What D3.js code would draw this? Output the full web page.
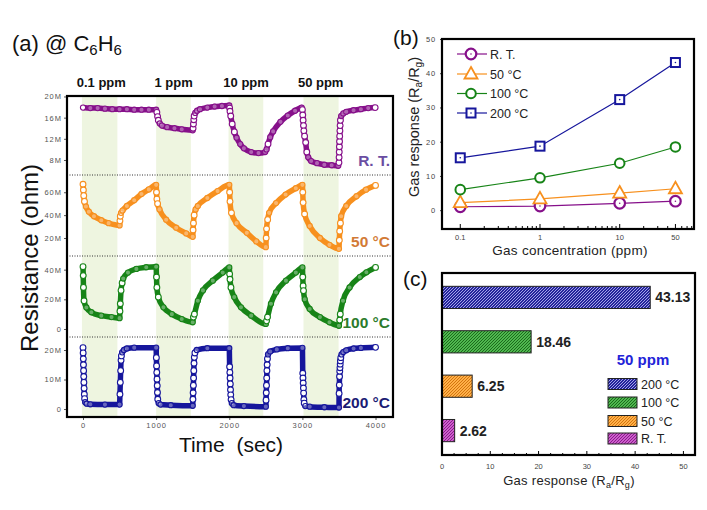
<!DOCTYPE html>
<html><head><meta charset="utf-8">
<script src="https://cdn.jsdelivr.net/npm/d3@7"></script>
<style>
body{margin:0;background:#fff}
svg{display:block}
text{font-family:Arial,"Liberation Sans",sans-serif}
</style>
</head><body>
<svg id="chart" width="707" height="510"></svg>
<script>
// ---------------- DATA ----------------
// Panel (a): resistance transients (time in sec, resistance in MOhm)
const timeTicks = [0, 1000, 2000, 3000, 4000];
const gasBands = [[-15, 470], [1000, 1475], [1990, 2465], [3015, 3495]];
const concLabels = ["0.1 ppm", "1 ppm", "10 ppm", "50 ppm"];
const concLabelTimes = [250, 1240, 2230, 3250];
const tempNames = ["R. T.", "50 °C", "100 °C", "200 °C"];

const rtData = [[0,17.9],[100,17.8],[200,17.8],[300,17.7],[400,17.6],[500,17.6],[600,17.6],[700,17.5],[800,17.5],[900,17.5],[1000,17.5],
[1010,17.0],[1020,16.2],[1030,15.5],[1050,14.9],[1080,14.5],[1150,14.2],[1250,14.0],[1350,13.8],[1500,13.6],
[1505,14.0],[1510,14.8],[1515,15.6],[1520,16.3],[1535,16.9],[1560,17.3],[1600,17.6],[1700,17.9],[1800,18.1],[1900,18.2],[2000,18.3],
[2005,17.8],[2010,17.2],[2020,16.3],[2040,14.8],[2070,13.3],[2100,12.2],[2150,11.0],[2200,10.2],[2300,9.5],[2400,9.3],[2490,9.5],
[2510,10.0],[2530,11.0],[2560,12.3],[2600,13.4],[2700,15.2],[2800,16.4],[2900,17.3],[2990,17.9],
[3000,17.5],[3005,16.5],[3010,15.5],[3015,14.5],[3020,13.5],[3030,12.5],[3045,11.3],[3060,9.5],[3080,8.5],[3120,7.8],[3200,7.4],[3300,7.1],[3400,7.0],[3490,6.9],
[3500,7.5],[3502,8.5],[3504,9.5],[3506,10.5],[3508,11.5],[3510,12.5],[3513,13.5],[3516,14.5],[3520,15.5],[3530,16.3],[3560,16.8],[3600,17.1],[3700,17.4],[3800,17.6],[3900,17.8],[3995,17.9]];

const t50Data = [[0,67],[5,62],[10,57],[20,52],[40,47.5],[80,43],[150,39],[250,35.5],[350,33],[500,31],
[505,35],[510,39],[520,42],[540,44],[600,48],[700,53],[800,58.5],[900,62.5],[1000,66.5],
[1005,60],[1010,54],[1020,50],[1046,45],[1137,36],[1274,29],[1411,24],[1500,21],
[1505,27],[1510,33],[1520,40],[1540,45],[1570,48],[1700,55],[1840,61],[2000,66.5],
[2005,60],[2010,52],[2030,42],[2100,33],[2240,24.5],[2370,17],[2500,12],
[2505,20],[2510,28],[2525,36],[2545,42],[2640,50.5],[2770,58],[2910,63.5],[3000,66.5],
[3005,60],[3010,51],[3030,41],[3100,30.5],[3240,20],[3370,14],[3500,10.5],
[3505,18],[3510,26],[3520,33],[3530,39],[3600,48],[3740,56.5],[3870,62.3],[4000,66]];

const t100Data = [[0,42],[3,36],[6,28],[14,19],[46,14.5],[114,11.3],[250,9],[390,8],[500,7.3],
[505,12],[510,17],[520,26],[535,31],[550,34],[615,38],[730,40.5],[865,41.6],[1000,42],
[1005,35],[1010,28],[1030,21.5],[1100,14.6],[1215,10],[1350,6.7],[1500,4.5],
[1510,8],[1523,10],[1570,19],[1640,26],[1775,32.6],[1910,38],[2000,41.5],
[2005,37],[2010,33.5],[2023,28],[2068,21.5],[2160,14.6],[2300,9],[2500,3.4],
[2510,5.5],[2523,8],[2570,17],[2640,24.7],[2775,32.6],[2910,38],[3000,41.5],
[3005,35],[3010,29],[3015,25.8],[3032,20],[3100,13.5],[3240,8],[3370,4.5],[3500,2.2],
[3510,6],[3518,10],[3555,19],[3645,28],[3785,35],[3875,38.2],[4000,41.5]];

const t200Data = [[0,20.8],[2,19],[4,17],[6,15],[8,13],[10,11],[12,9],[15,7],[18,5],[22,3.5],[30,2.3],[50,1.8],[100,1.6],[300,1.5],[500,1.5],
[505,5],[510,9],[515,13],[520,16.5],[525,18],[535,19.2],[560,20],[600,20.5],[700,20.8],[1000,20.8],
[1003,17.4],[1006,14.6],[1009,12.4],[1012,10.1],[1015,7.9],[1018,5.6],[1022,3.3],[1035,2.0],[1060,1.5],[1200,1.3],[1500,1.1],
[1503,3.3],[1506,5.5],[1509,8],[1512,10.5],[1515,13],[1518,15.5],[1522,17.5],[1530,19],[1555,20],[1700,20.6],[2000,20.6],
[2005,14.3],[2008,12.4],[2011,10.5],[2014,8.5],[2017,6.5],[2020,4.8],[2025,3.2],[2035,2.0],[2060,1.3],[2200,1.0],[2500,0.8],
[2503,3],[2506,5.5],[2509,8],[2512,10.5],[2515,13],[2518,15],[2522,17],[2530,18.5],[2560,19.5],[2650,20.2],[2800,20.6],[3000,20.7],
[3005,12.1],[3008,10.5],[3011,8.8],[3014,7.1],[3017,5.4],[3020,3.2],[3025,2.0],[3040,1.0],[3100,0.8],[3300,0.6],[3500,0.5],
[3502,5.3],[3505,8.1],[3508,11],[3511,12.8],[3514,14],[3517,15.2],[3520,16.3],[3525,17.4],[3535,18.5],[3560,19.3],[3600,19.9],[3700,20.5],[3800,20.7],[4000,20.9]];

const rtTicks = [8, 12, 16, 20];
const t50Ticks = [20, 40, 60];
const t100Ticks = [0, 20, 40];
const t200Ticks = [0, 10, 20];

// Panel (b): response vs concentration
const concentrations = [0.1, 1, 10, 50];
const respRT = [1.0, 1.2, 2.0, 2.62];
const resp50 = [2.2, 3.3, 5.0, 6.25];
const resp100 = [6.0, 9.45, 13.7, 18.46];
const resp200 = [15.3, 18.7, 32.3, 43.13];
const bYTicks = [0, 10, 20, 30, 40, 50];
const bXTicks = [0.1, 1, 10, 50];

// Panel (c): response at 50 ppm
const barLabels = ["200 °C", "100 °C", "50 °C", "R. T."];
const barValues = [43.13, 18.46, 6.25, 2.62];
const cXTicks = [0, 10, 20, 30, 40, 50];

// ---------------- STYLE ----------------
const colRT = "#86108a", col50 = "#f7901e", col100 = "#178417", col200 = "#16169c";
const font = 'Arial,"Liberation Sans",sans-serif';

const svg = d3.select("#chart");
const defs = svg.append("defs");

// ================= PANEL (a) =================
const A = {left: 67, right: 393, top: 96, bottom: 417};
const edges = [96, 175, 256, 337, 417];
const xA = d3.scaleLinear().domain([-219, 4239]).range([A.left, A.right]);

svg.append("g").selectAll("rect").data(gasBands).join("rect")
  .attr("x", d => xA(d[0])).attr("width", d => xA(d[1]) - xA(d[0]))
  .attr("y", A.top).attr("height", A.bottom - A.top)
  .attr("fill", "#eef5e0");

const subs = [
  {data: rtData, dom: [5.16, 20.09], ticks: rtTicks, color: colRT, label: tempNames[0], lcol: "#6a4da2"},
  {data: t50Data, dom: [4.25, 75.1], ticks: t50Ticks, color: col50, label: tempNames[1], lcol: "#d27a36"},
  {data: t100Data, dom: [-5.4, 49.2], ticks: t100Ticks, color: col100, label: tempNames[2], lcol: "#2c7b2c"},
  {data: t200Data, dom: [-2.7, 24.4], ticks: t200Ticks, color: col200, label: tempNames[3], lcol: "#1b1b74"}
];

subs.forEach((s, i) => {
  const y0 = edges[i], y1 = edges[i + 1];
  const y = d3.scaleLinear().domain(s.dom).range([y1, y0]);
  const cid = "clipA" + i;
  defs.append("clipPath").attr("id", cid).append("rect")
    .attr("x", A.left).attr("y", y0).attr("width", A.right - A.left).attr("height", y1 - y0);
  const g = svg.append("g").attr("clip-path", `url(#${cid})`);
  const line = d3.line().x(d => xA(d[0])).y(d => y(d[1])).curve(d3.curveMonotoneX);
  g.append("path").datum(s.data).attr("d", line)
    .attr("fill", "none").attr("stroke", s.color).attr("stroke-width", 5.5)
    .attr("stroke-linejoin", "round");
  // a point is "steep" when its neighbours are far apart vertically compared with horizontally
  const steep = s.data.map((d, k) => {
    const a = s.data[Math.max(0, k - 1)], b = s.data[Math.min(s.data.length - 1, k + 1)];
    const dx = Math.abs(xA(b[0]) - xA(a[0])), dy = Math.abs(y(b[1]) - y(a[1]));
    return dy > 3 * dx && dy > 4;
  });
  const n = s.data.length;
  g.selectAll("circle").data(s.data).join("circle")
    .attr("cx", d => xA(d[0])).attr("cy", d => y(d[1]))
    .attr("r", (d, k) => steep[k] || k === n - 1 ? 2.9 : 2.6)
    .attr("fill", "#fff").attr("fill-opacity", (d, k) => steep[k] || k === n - 1 || k === 0 ? 1 : 0.35)
    .attr("stroke", s.color).attr("stroke-width", 1.1);

  const ax = svg.append("g").attr("transform", `translate(${A.left},0)`)
    .call(d3.axisLeft(y).tickValues(s.ticks).tickSize(3).tickPadding(2)
      .tickFormat(d => d === 0 ? "0" : d + "M"));
  ax.select(".domain").remove();
  ax.selectAll("line").attr("stroke", "#555");
  ax.selectAll("text").attr("font-size", 7.5).attr("fill", "#555")
    .attr("letter-spacing", 1).attr("font-family", font);

  svg.append("text").attr("x", 390).attr("y", y1 - 9)
    .attr("text-anchor", "end").attr("font-size", 15.5).attr("font-weight", "bold")
    .attr("fill", s.lcol).text(s.label);

  if (i > 0) {
    svg.append("line").attr("x1", A.left).attr("x2", A.right).attr("y1", y0).attr("y2", y0)
      .attr("stroke", "#333").attr("stroke-width", 1).attr("stroke-dasharray", "1,1.5");
  }
});

const axT = svg.append("g").attr("transform", `translate(0,${A.bottom})`)
  .call(d3.axisBottom(xA).tickValues(timeTicks).tickSize(3).tickPadding(3).tickFormat(d3.format("d")));
axT.select(".domain").remove();
axT.selectAll("line").attr("stroke", "#555");
axT.selectAll("text").attr("font-size", 7.5).attr("fill", "#555")
  .attr("letter-spacing", 1).attr("font-family", font);

svg.append("rect").attr("x", A.left).attr("y", A.top)
  .attr("width", A.right - A.left).attr("height", A.bottom - A.top)
  .attr("fill", "none").attr("stroke", "#000").attr("stroke-width", 2.2);

svg.append("g").selectAll("text").data(concLabels).join("text")
  .attr("x", (d, i) => xA(concLabelTimes[i])).attr("y", 87)
  .attr("text-anchor", "middle").attr("font-size", 13).attr("font-weight", "bold")
  .attr("fill", "#111").text(d => d);

const ta = svg.append("text").attr("x", 12).attr("y", 51).attr("font-size", 22).attr("fill", "#111");
ta.append("tspan").text("(a) @ C");
ta.append("tspan").attr("font-size", 15).attr("dy", 4).text("6");
ta.append("tspan").attr("dy", -4).text("H");
ta.append("tspan").attr("font-size", 15).attr("dy", 4).text("6");

svg.append("text").attr("transform", "translate(38,258) rotate(-90)")
  .attr("text-anchor", "middle").attr("font-size", 24).attr("fill", "#111")
  .text("Resistance (ohm)");

svg.append("text").attr("x", 231).attr("y", 452).attr("text-anchor", "middle")
  .attr("font-size", 21).attr("fill", "#111").attr("xml:space", "preserve")
  .style("white-space", "pre").text("Time  (sec)");

// ================= PANEL (b) =================
const B = {left: 442, right: 694, top: 39, bottom: 229};
const xB = d3.scaleLog().domain([0.059, 85.5]).range([B.left, B.right]);
const yB = d3.scaleLinear().domain([-5.5, 50]).range([B.bottom, B.top]);

const axBy = svg.append("g").attr("transform", `translate(${B.left},0)`)
  .call(d3.axisLeft(yB).tickValues(bYTicks).tickSize(2).tickPadding(4).tickFormat(d3.format("d")));
axBy.select(".domain").remove();
axBy.selectAll("line").attr("stroke", "#444");
axBy.selectAll("text").attr("font-size", 7.5).attr("fill", "#444").attr("letter-spacing", 0.8).attr("font-family", font);

const minorB = [];
[0.1, 1, 10].forEach(dec => { for (let k = 1; k <= 9; k++) { const v = dec * k; if (v <= 85) minorB.push(v); } });
svg.append("g").selectAll("line").data(minorB).join("line")
  .attr("x1", d => xB(d)).attr("x2", d => xB(d))
  .attr("y1", B.bottom).attr("y2", d => B.bottom - (bXTicks.includes(d) || d === 1 || d === 10 ? 5 : 3))
  .attr("stroke", "#000").attr("stroke-width", 1);
svg.append("g").selectAll("text").data(bXTicks).join("text")
  .attr("x", d => xB(d)).attr("y", 240).attr("text-anchor", "middle")
  .attr("font-size", 7.5).attr("fill", "#444").attr("font-family", font).text(d => d);

const seriesB = [
  {vals: respRT, color: colRT, name: tempNames[0], shape: "hex"},
  {vals: resp50, color: col50, name: tempNames[1], shape: "tri"},
  {vals: resp100, color: col100, name: tempNames[2], shape: "circ"},
  {vals: resp200, color: col200, name: tempNames[3], shape: "sq"}
];

function drawMarker(g, shape, color, cx, cy) {
  if (shape === "hex") {
    g.append("circle").attr("cx", cx).attr("cy", cy).attr("r", 5.3)
      .attr("fill", "#fff").attr("stroke", color).attr("stroke-width", 2.2);
    g.append("circle").attr("cx", cx).attr("cy", cy).attr("r", 0.8).attr("fill", color);
  } else if (shape === "tri") {
    g.append("path").attr("d", `M${cx},${cy - 7}L${cx + 6.5},${cy + 4.5}L${cx - 6.5},${cy + 4.5}Z`)
      .attr("fill", "#fff").attr("stroke", color).attr("stroke-width", 1.8);
  } else if (shape === "circ") {
    g.append("circle").attr("cx", cx).attr("cy", cy).attr("r", 4.8)
      .attr("fill", "#fff").attr("stroke", color).attr("stroke-width", 2);
  } else {
    g.append("rect").attr("x", cx - 4.5).attr("y", cy - 4.5).attr("width", 9).attr("height", 9)
      .attr("fill", "#fff").attr("stroke", color).attr("stroke-width", 2);
    g.append("circle").attr("cx", cx).attr("cy", cy).attr("r", 0.8).attr("fill", color);
  }
}

const lineB = d3.line().x(d => xB(d[0])).y(d => yB(d[1]));
seriesB.forEach(s => {
  const pts = concentrations.map((c, i) => [c, s.vals[i]]);
  svg.append("path").datum(pts).attr("d", lineB).attr("fill", "none")
    .attr("stroke", s.color).attr("stroke-width", 1.2);
});
seriesB.forEach(s => {
  const g = svg.append("g");
  concentrations.forEach((c, i) => drawMarker(g, s.shape, s.color, xB(c), yB(s.vals[i])));
});

// legend (b)
const legY = [54, 74, 93.5, 113];
seriesB.forEach((s, i) => {
  const g = svg.append("g");
  g.append("line").attr("x1", 457).attr("x2", 487).attr("y1", legY[i]).attr("y2", legY[i])
    .attr("stroke", s.color).attr("stroke-width", 1.2);
  drawMarker(g, s.shape, s.color, 471, legY[i]);
  g.append("text").attr("x", 490).attr("y", legY[i] + 4.5).attr("font-size", 12.5)
    .attr("fill", "#222").text(s.name);
});

svg.append("rect").attr("x", B.left).attr("y", B.top)
  .attr("width", B.right - B.left).attr("height", B.bottom - B.top)
  .attr("fill", "none").attr("stroke", "#000").attr("stroke-width", 2.2);

svg.append("text").attr("x", 393).attr("y", 45).attr("font-size", 21).attr("fill", "#111").text("(b)");

const tby = svg.append("text").attr("transform", "translate(419,127) rotate(-90)")
  .attr("text-anchor", "middle").attr("font-size", 14.5).attr("fill", "#222");
tby.append("tspan").text("Gas response (R");
tby.append("tspan").attr("font-size", 10).attr("dy", 3).text("a");
tby.append("tspan").attr("dy", -3).text("/R");
tby.append("tspan").attr("font-size", 10).attr("dy", 3).text("g");
tby.append("tspan").attr("dy", -3).text(")");

svg.append("text").attr("x", 570).attr("y", 255).attr("text-anchor", "middle")
  .attr("font-size", 13.5).attr("fill", "#222").attr("letter-spacing", 0.3).text("Gas concentration (ppm)");

// ================= PANEL (c) =================
const C = {left: 442, right: 695, top: 273, bottom: 455};
const xC = d3.scaleLinear().domain([0, 52.4]).range([C.left, C.right]);
const yC = d3.scaleBand().domain(barLabels).range([C.top, C.bottom]).paddingInner(0.5).paddingOuter(0.3);

const hatch = [
  {base: "#24249a", line: "#c4c4ff"},
  {base: "#4fb84f", line: "#0f550f"},
  {base: "#ffb048", line: "#c86400"},
  {base: "#cc5ecc", line: "#7a0c7a"}
];
hatch.forEach((h, i) => {
  const p = defs.append("pattern").attr("id", "hatch" + i).attr("patternUnits", "userSpaceOnUse")
    .attr("width", 3).attr("height", 3);
  p.append("rect").attr("width", 3).attr("height", 3).attr("fill", h.base);
  p.append("path").attr("d", "M-1,1 l2,-2 M0,3 l3,-3 M2,4 l2,-2")
    .attr("stroke", h.line).attr("stroke-width", 0.8);
});

svg.append("g").selectAll("rect").data(barLabels).join("rect")
  .attr("x", xC(0)).attr("y", d => yC(d)).attr("height", yC.bandwidth())
  .attr("width", (d, i) => xC(barValues[i]) - xC(0))
  .attr("fill", (d, i) => `url(#hatch${i})`).attr("stroke", "#222").attr("stroke-width", 1);

svg.append("g").selectAll("text").data(barLabels).join("text")
  .attr("x", (d, i) => xC(barValues[i]) + 5).attr("y", d => yC(d) + yC.bandwidth() / 2 + 5)
  .attr("font-size", 14).attr("font-weight", "bold").attr("fill", "#222")
  .text((d, i) => barValues[i].toFixed(2));

const minorC = d3.range(0, 52.5, 2.5);
svg.append("g").selectAll("line").data(minorC).join("line")
  .attr("x1", d => xC(d)).attr("x2", d => xC(d))
  .attr("y1", C.bottom).attr("y2", d => C.bottom - (d % 10 === 0 ? 4 : 2))
  .attr("stroke", "#000");
svg.append("g").selectAll("text").data(cXTicks).join("text")
  .attr("x", d => xC(d)).attr("y", 469).attr("text-anchor", "middle")
  .attr("font-size", 7.5).attr("fill", "#444").attr("font-family", font).text(d => d);

svg.append("rect").attr("x", C.left).attr("y", C.top)
  .attr("width", C.right - C.left).attr("height", C.bottom - C.top)
  .attr("fill", "none").attr("stroke", "#000").attr("stroke-width", 2.2);

svg.append("text").attr("x", 403).attr("y", 286).attr("font-size", 21).attr("fill", "#111").text("(c)");

svg.append("text").attr("x", 643).attr("y", 365).attr("text-anchor", "middle")
  .attr("font-size", 15).attr("font-weight", "bold").attr("fill", "#2323d8").text("50 ppm");

const legCY = [384, 402.5, 421, 438.5];
barLabels.forEach((d, i) => {
  svg.append("rect").attr("x", 608).attr("y", legCY[i] - 5.5).attr("width", 29).attr("height", 11)
    .attr("fill", `url(#hatch${i})`).attr("stroke", "#222").attr("stroke-width", 1);
  svg.append("text").attr("x", 641).attr("y", legCY[i] + 4.5).attr("font-size", 12.5)
    .attr("fill", "#222").text(d);
});

const tcx = svg.append("text").attr("x", 569).attr("y", 485).attr("text-anchor", "middle")
  .attr("font-size", 13).attr("fill", "#222").attr("letter-spacing", 0.3);
tcx.append("tspan").text("Gas response (R");
tcx.append("tspan").attr("font-size", 9).attr("dy", 3).text("a");
tcx.append("tspan").attr("dy", -3).text("/R");
tcx.append("tspan").attr("font-size", 9).attr("dy", 3).text("g");
tcx.append("tspan").attr("dy", -3).text(")");
</script>
</body></html>
